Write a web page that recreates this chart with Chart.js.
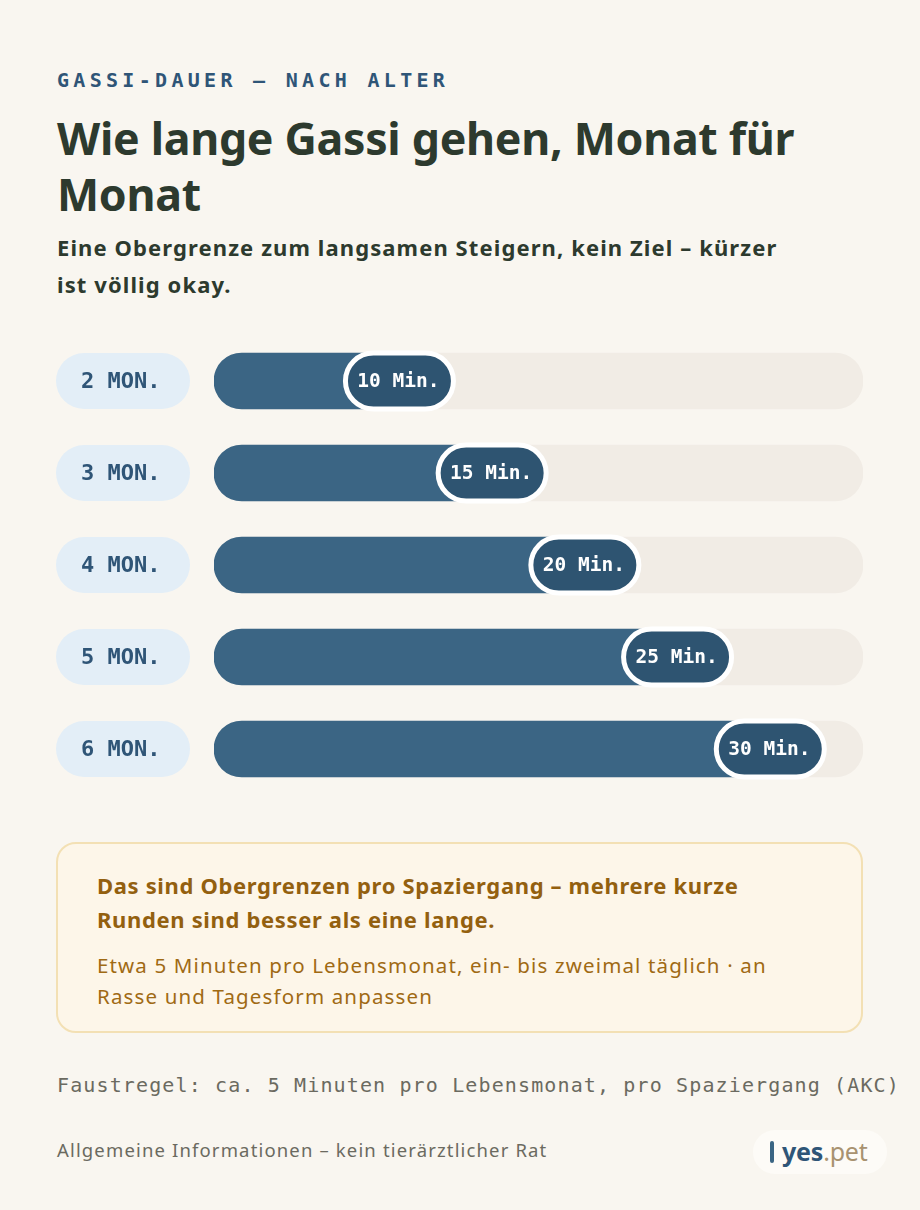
<!DOCTYPE html>
<html lang="de">
<head>
<meta charset="utf-8">
<script src="https://cdn.jsdelivr.net/npm/chart.js@4.4.0/dist/chart.umd.min.js"></script>
<style>
  body { margin: 0; background: #f9f6f0; width: 920px; height: 1210px; position: relative; overflow: hidden; font-family: "Noto Sans", sans-serif; }
  .abs { position: absolute; left: 57px; white-space: nowrap; }
  .mono { font-family: "DejaVu Sans Mono", "Liberation Mono", monospace; }
  #eyebrow { top: 68px; font-size: 20px; font-weight: bold; letter-spacing: 4.3px; color: #2f5577; line-height: 24px; }
  #title { top: 110px; font-size: 44.7px; font-weight: bold; color: #2d3a2e; line-height: 56px; letter-spacing: -0.3px; }
  #subtitle { top: 229px; font-size: 22px; font-weight: bold; color: #2d3a2e; line-height: 37px; letter-spacing: 1.1px; }
  #chartBox { position: absolute; left: 0; top: 335px; width: 920px; height: 460px; }
  #note { position: absolute; left: 56px; top: 842px; width: 803px; height: 187px; background: #fdf6e9; border: 2px solid #f3e0b4; border-radius: 20px; }
  #note .strong { position: absolute; left: 39px; top: 24px; font-size: 22px; font-weight: bold; color: #93600f; line-height: 34px; white-space: nowrap; letter-spacing: 0.65px; }
  #note .soft { position: absolute; left: 39px; top: 106px; font-size: 20.5px; color: #a06a14; line-height: 31px; white-space: nowrap; letter-spacing: 1.15px; }
  #rule { top: 1073px; font-size: 20px; color: #6b6a60; line-height: 24px; letter-spacing: 1.13px; }
  #disclaimer { top: 1138px; font-size: 18.5px; color: #6b6a60; line-height: 24px; letter-spacing: 1.15px; }
  #logo { position: absolute; left: 753px; top: 1130px; width: 134px; height: 44px; border-radius: 22px; background: #fdfbf7; }
  #logo .bar { position: absolute; left: 17px; top: 11px; width: 4px; height: 22px; border-radius: 2px; background: #3a6583; }
  #logo .txt { position: absolute; left: 29px; top: 6px; font-size: 25px; line-height: 30px; letter-spacing: -0.2px; }
  #logo b { color: #2f5577; }
  #logo span { color: #a89270; }
</style>
</head>
<body>
<div id="eyebrow" class="abs mono">GASSI-DAUER – NACH ALTER</div>
<div id="title" class="abs">Wie lange Gassi gehen, Monat für<br>Monat</div>
<div id="subtitle" class="abs">Eine Obergrenze zum langsamen Steigern, kein Ziel – kürzer<br>ist völlig okay.</div>

<div id="chartBox"><canvas id="chart" width="920" height="460"></canvas></div>

<div id="note">
  <div class="strong">Das sind Obergrenzen pro Spaziergang – mehrere kurze<br>Runden sind besser als eine lange.</div>
  <div class="soft">Etwa 5 Minuten pro Lebensmonat, ein- bis zweimal täglich · an<br>Rasse und Tagesform anpassen</div>
</div>

<div id="rule" class="abs mono">Faustregel: ca. 5 Minuten pro Lebensmonat, pro Spaziergang (AKC)</div>
<div id="disclaimer" class="abs">Allgemeine Informationen – kein tierärztlicher Rat</div>
<div id="logo"><div class="bar"></div><div class="txt"><b>yes</b><span>.pet</span></div></div>

<script>
// data
const ageLabels = ['2 MON.', '3 MON.', '4 MON.', '5 MON.', '6 MON.'];
const walkMinutes = [10, 15, 20, 25, 30];
const scaleMax = 35;
const unit = 'Min.';

const monoFont = '"DejaVu Sans Mono", "Liberation Mono", monospace';

// pills: age label on the left, minutes badge at the end of each bar
const pillPlugin = {
  id: 'pills',
  afterDatasetsDraw(chart) {
    const { ctx, scales: { x, y } } = chart;
    ctx.save();
    ageLabels.forEach((lab, i) => {
      const cy = y.getPixelForValue(i);

      // age pill
      ctx.beginPath();
      ctx.roundRect(56, cy - 28, 134, 56, 28);
      ctx.fillStyle = '#e3eef7';
      ctx.fill();
      ctx.fillStyle = '#2f5577';
      ctx.font = 'bold 22px ' + monoFont;
      ctx.textAlign = 'left';
      ctx.textBaseline = 'middle';
      ctx.fillText(lab, 81, cy + 1);

      // minutes badge
      const cx = x.getPixelForValue(walkMinutes[i]);
      ctx.beginPath();
      ctx.roundRect(cx - 54, cy - 28, 108, 56, 28);
      ctx.fillStyle = '#2e5471';
      ctx.fill();
      ctx.lineWidth = 5;
      ctx.strokeStyle = '#ffffff';
      ctx.stroke();
      ctx.fillStyle = '#ffffff';
      ctx.font = 'bold 19.5px ' + monoFont;
      ctx.textAlign = 'center';
      ctx.fillText(walkMinutes[i] + ' ' + unit, cx - 1, cy + 1);
    });
    ctx.restore();
  }
};

new Chart(document.getElementById('chart'), {
  type: 'bar',
  data: {
    labels: ageLabels,
    datasets: [
      {
        data: walkMinutes,
        backgroundColor: '#3b6584',
        barThickness: 56,
        borderRadius: 28,
        borderSkipped: false,
        grouped: false,
        order: 0
      },
      {
        data: ageLabels.map(() => scaleMax),
        backgroundColor: '#f1ece5',
        barThickness: 56,
        borderRadius: 28,
        borderSkipped: false,
        grouped: false,
        order: 1
      }
    ]
  },
  options: {
    indexAxis: 'y',
    responsive: false,
    maintainAspectRatio: false,
    animation: false,
    layout: { padding: { left: 214, right: 57, top: 0, bottom: 0 } },
    scales: {
      x: { display: false, min: 0, max: scaleMax },
      y: { display: false }
    },
    plugins: {
      legend: { display: false },
      tooltip: { enabled: false }
    }
  },
  plugins: [pillPlugin]
});
</script>
</body>
</html>
